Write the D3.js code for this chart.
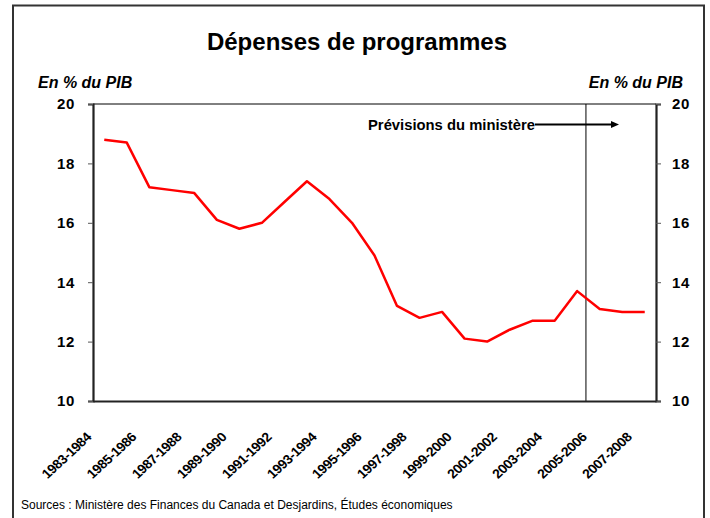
<!DOCTYPE html>
<html lang="fr">
<head>
<meta charset="utf-8">
<title>Dépenses de programmes</title>
<script src="https://cdn.jsdelivr.net/npm/d3@7"></script>
<style>
  body { margin: 0; background: #fff; }
  svg { font-family: "Liberation Sans", Arial, sans-serif; display: block; }
</style>
</head>
<body>
<script>
// data
var years = ["1983-1984","1984-1985","1985-1986","1986-1987","1987-1988","1988-1989",
  "1989-1990","1990-1991","1991-1992","1992-1993","1993-1994","1994-1995","1995-1996",
  "1996-1997","1997-1998","1998-1999","1999-2000","2000-2001","2001-2002","2002-2003",
  "2003-2004","2004-2005","2005-2006","2006-2007","2007-2008"];
var depenses = [18.8, 18.7, 17.2, 17.1, 17.0, 16.1, 15.8, 16.0, 16.7, 17.4, 16.8, 16.0, 14.9,
  13.2, 12.8, 13.0, 12.1, 12.0, 12.4, 12.7, 12.7, 13.7, 13.1, 13.0, 13.0];
var yTicks = [10, 12, 14, 16, 18, 20];
var forecastFrom = "2005-2006";

var w = 710, h = 518;
var plotLeft = 93, plotRight = 656, plotTop = 104, plotBottom = 401;

var svg = d3.select("body").append("svg")
  .attr("width", w)
  .attr("height", h);

// outer frame (bottom edge falls outside the picture)
svg.append("path")
  .attr("d", "M13,530 L13,5.5 L704,5.5 L704,530")
  .attr("fill", "none")
  .attr("stroke", "#333")
  .attr("stroke-width", 2);

var xScale = d3.scaleBand().domain(years).range([plotLeft, plotRight]);
var xMid = function(d) { return xScale(d) + xScale.bandwidth() / 2; };
var yScale = d3.scaleLinear().domain([10, 20]).range([plotBottom, plotTop]);

// title
svg.append("text")
  .attr("x", 357).attr("y", 50)
  .attr("text-anchor", "middle")
  .style("font-size", "24px")
  .style("font-weight", "bold")
  .text("Dépenses de programmes");

svg.append("text")
  .attr("x", 38).attr("y", 88)
  .style("font-size", "16px")
  .style("font-weight", "bold")
  .style("font-style", "italic")
  .text("En % du PIB");

svg.append("text")
  .attr("x", 683).attr("y", 88)
  .attr("text-anchor", "end")
  .style("font-size", "16px")
  .style("font-weight", "bold")
  .style("font-style", "italic")
  .text("En % du PIB");

// top border of plot
svg.append("line")
  .attr("x1", plotLeft).attr("x2", plotRight)
  .attr("y1", plotTop).attr("y2", plotTop)
  .attr("stroke", "#000").attr("stroke-width", 1);

// forecast line
var fx = xScale(forecastFrom) - 2.5;
svg.append("line")
  .attr("x1", fx).attr("x2", fx)
  .attr("y1", plotTop).attr("y2", plotBottom)
  .attr("stroke", "#000").attr("stroke-width", 1);

// axes
var yLeft = d3.axisLeft(yScale).tickValues(yTicks).tickSize(5).tickPadding(13);
var yRight = d3.axisRight(yScale).tickValues(yTicks).tickSize(5).tickPadding(11);

var gl = svg.append("g").attr("transform", "translate(" + plotLeft + ",0)").call(yLeft);
var gr = svg.append("g").attr("transform", "translate(" + plotRight + ",0)").call(yRight);
[gl, gr].forEach(function(g) {
  g.select(".domain").attr("stroke", "#222").attr("stroke-width", 2.2);
  g.selectAll(".tick line").attr("stroke", "#555");
  g.selectAll(".tick text")
    .style("font-size", "15px")
    .style("font-weight", "bold")
    .style("letter-spacing", "0.6px")
    .attr("fill", "#000")
    .style("font-family", "'Liberation Sans', Arial, sans-serif");
});

var xAxis = d3.axisBottom(xScale).tickSize(0).tickFormat("");
var gx = svg.append("g").attr("transform", "translate(0," + plotBottom + ")").call(xAxis);
gx.select(".domain").attr("stroke", "#222").attr("stroke-width", 2.2);

// x labels every other year, rotated
svg.selectAll(".xlab")
  .data(years.filter(function(d, i) { return i % 2 === 0; }))
  .enter().append("text")
  .attr("class", "xlab")
  .attr("text-anchor", "end")
  .attr("transform", function(d) {
    return "translate(" + (xMid(d) - 12) + ",438) scale(1.08,1) rotate(-45)";
  })
  .style("font-size", "13px")
  .style("font-weight", "bold")
  .style("letter-spacing", "-0.4px")
  .text(function(d) { return d; });

// series
var line = d3.line()
  .x(function(d, i) { return xMid(years[i]); })
  .y(function(d) { return yScale(d); });

svg.append("path")
  .datum(depenses)
  .attr("d", line)
  .attr("fill", "none")
  .attr("stroke", "#ff0000")
  .attr("stroke-width", 2.5)
  .attr("stroke-linejoin", "round");

// annotation
var ann = svg.append("text")
  .attr("x", 368).attr("y", 129.5)
  .style("font-size", "14.8px")
  .style("font-weight", "bold")
  .text("Prévisions du ministère");
var annEnd = 368 + ann.node().getComputedTextLength();

svg.append("line")
  .attr("x1", annEnd).attr("x2", 612)
  .attr("y1", 124.5).attr("y2", 124.5)
  .attr("stroke", "#000").attr("stroke-width", 2);
svg.append("path")
  .attr("d", "M611,121 L619,124.5 L611,128 Z")
  .attr("fill", "#000");

// source
svg.append("text")
  .attr("x", 21).attr("y", 509)
  .style("font-size", "12px")
  .text("Sources : Ministère des Finances du Canada et Desjardins, Études économiques");
</script>
</body>
</html>
